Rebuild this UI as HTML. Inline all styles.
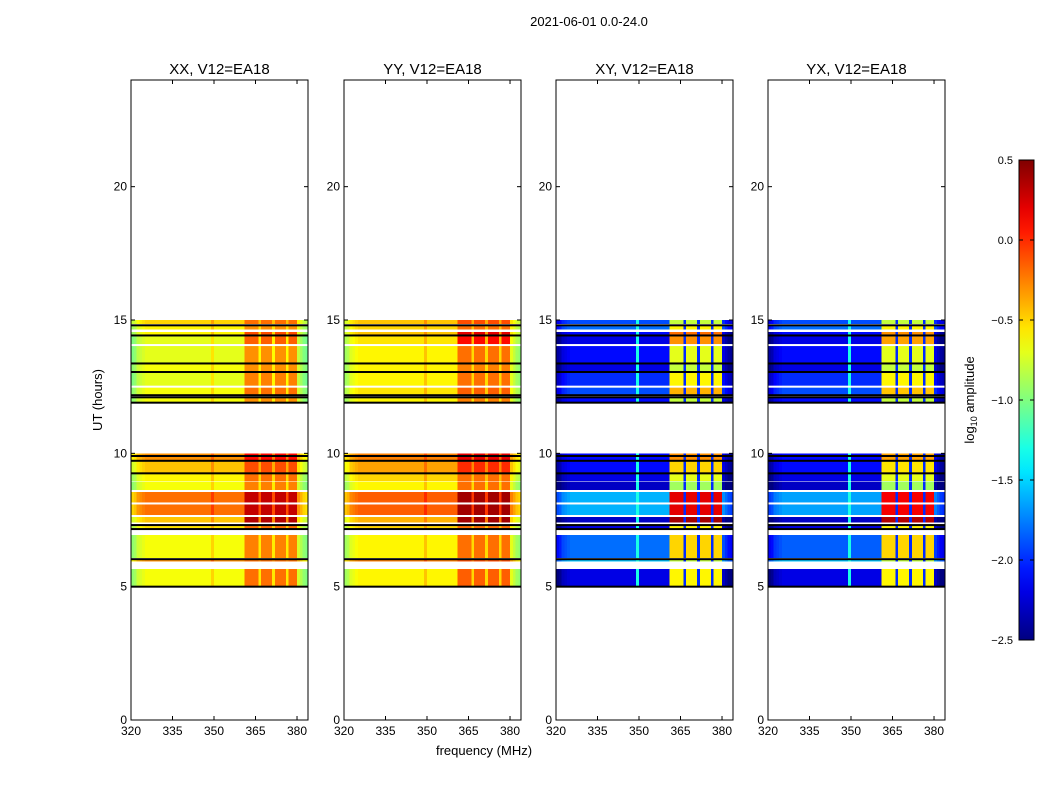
<!DOCTYPE html>
<html><head><meta charset="utf-8"><style>
body{margin:0;background:#fff;}
svg text{font-family:"Liberation Sans",sans-serif;fill:#000;}
</style></head><body>
<svg id="fig" width="1050" height="800" viewBox="0 0 1050 800" xmlns="http://www.w3.org/2000/svg">
<text x="589" y="26" font-size="13" text-anchor="middle">2021-06-01 0.0-24.0</text>
<text transform="translate(102,400) rotate(-90)" font-size="13" text-anchor="middle">UT (hours)</text>
<text x="484" y="755" font-size="13" text-anchor="middle">frequency (MHz)</text>
<text transform="translate(974,400) rotate(-90)" font-size="13" text-anchor="middle">log<tspan font-size="9" dy="3">10</tspan><tspan dy="-3"> amplitude</tspan></text>
<g id="panels"></g>
<g id="cbar"></g>
</svg>
<script>
const panelNames = ["XX, V12=EA18","YY, V12=EA18","XY, V12=EA18","YX, V12=EA18"];
const xTicks = [320,335,350,365,380];
const yTicks = [0,5,10,15,20];
const cbTicks = [0.5,0.0,-0.5,-1.0,-1.5,-2.0,-2.5];
const cbLabels = ["0.5","0.0","\u22120.5","\u22121.0","\u22121.5","\u22122.0","\u22122.5"];
// time bands (hours)
const bandStart = [14.85,14.65,14.42,14.06,13.37,13.05,12.5,12.2,11.9,9.72,9.25,8.97,8.62,7.69,7.4,7.16,6.07,5.95,5.02];
const bandEnd   = [15.0,14.8,14.55,14.42,14.06,13.37,13.05,12.5,12.1,10.0,9.7,9.25,8.95,8.55,7.62,7.31,6.94,6.03,5.66];
// continuum / RFI levels per band per panel (log10 amplitude)
const xxCont = [-0.5,-0.6,-0.6,-0.7,-0.7,-0.65,-0.7,-0.65,-0.65,-0.3,-0.45,-0.6,-0.65,-0.2,-0.45,-0.55,-0.65,-0.3,-0.65];
const xxRfi  = [-0.2,-0.3,-0.1,-0.15,-0.3,-0.3,-0.25,-0.2,-0.3,0.1,-0.1,-0.2,-0.25,0.3,0.35,-0.2,-0.25,-0.2,-0.2];
const yyCont = [-0.45,-0.5,-0.45,-0.55,-0.6,-0.6,-0.6,-0.55,-0.6,-0.25,-0.35,-0.5,-0.6,-0.15,-0.4,-0.5,-0.6,-0.25,-0.6];
const yyRfi  = [-0.1,-0.2,0.2,0.1,-0.2,-0.25,-0.2,-0.15,-0.25,0.2,0.0,-0.2,-0.2,0.4,0.4,-0.2,-0.2,-0.1,-0.15];
const xyCont = [-1.9,-1.8,-2.1,-2.2,-2.1,-2.2,-2.0,-1.9,-2.1,-2.1,-2.1,-2.2,-2.3,-1.6,-2.3,-2.2,-1.8,-1.55,-2.2];
const xyRfi  = [-0.8,-0.6,-0.2,-0.3,-0.7,-0.8,-0.6,-0.4,-0.8,-0.3,-0.5,-0.7,-0.9,0.2,0.4,-0.6,-0.5,-0.8,-0.6];
const yxCont = [-1.9,-1.8,-2.1,-2.2,-2.1,-2.2,-2.0,-1.9,-2.1,-2.1,-2.1,-2.2,-2.3,-1.65,-2.3,-2.2,-1.85,-1.55,-2.2];
const yxRfi  = [-0.8,-0.6,-0.3,-0.35,-0.7,-0.8,-0.6,-0.45,-0.8,-0.35,-0.55,-0.7,-0.9,0.15,0.35,-0.6,-0.5,-0.8,-0.6];
// frequency channels (1 MHz) and RFI weight / edge taper
const freqs = []; for(let f=320; f<384; f++) freqs.push(f);
const rfiW = [0,0,0,0,0,0,0,0,0,0, 0,0,0,0,0,0,0,0,0,0, 0,0,0,0,0,0,0,0,0,0, 0,0,0,0,0,0,0,0,0,0, 0,1,1,1,1,1,0.2,1,1,1, 1,0.2,1,1,1,1,0.2,1,1,1, 0,0,0,0];
const taper = [-0.3,-0.25,-0.12,-0.08,-0.04,0,0,0,0,0, 0,0,0,0,0,0,0,0,0,0, 0,0,0,0,0,0,0,0,0,0.15, 0,0,0,0,0,0,0,0,0,0, 0,0,0,0,0,0,0,0,0,0, 0,0,0,0,0,0,0,0,0,0, -0.1,-0.2,-0.3,-0.35];
// black flag lines (hours)
const blackLines = [14.8,14.42,13.37,13.05,12.18,12.1,11.9,9.9,9.72,9.25,7.31,7.16,6.03,5.0];
const whiteLines = [14.06,12.5,8.12];

const NS="http://www.w3.org/2000/svg";
const lefts=[131,344,556,768], PW=177, TOP=80, PH=640;
const xs=(i,f)=>lefts[i]+(f-320)*2.767;
const ys=h=>TOP+PH-h*(PH/24);
function jet(v){let t=(v+2.5)/3;t=Math.max(0,Math.min(1,t));
 const c=x=>Math.round(255*Math.max(0,Math.min(1,x)));
 return `rgb(${c(1.5-Math.abs(4*t-3))},${c(1.5-Math.abs(4*t-2))},${c(1.5-Math.abs(4*t-1))})`;}
function mk(tag,attrs,parent){const e=document.createElementNS(NS,tag);for(const k in attrs)e.setAttribute(k,attrs[k]);parent.appendChild(e);return e;}
const conts=[xxCont,yyCont,xyCont,yxCont], rfis=[xxRfi,yyRfi,xyRfi,yxRfi];
const G=document.getElementById('panels');
for(let p=0;p<4;p++){
 const g=mk('g',{},G);
 
 
 const hm=mk('g',{'shape-rendering':'crispEdges'},g);
 
 
 for(let b=0;b<bandStart.length;b++){
  const y0=ys(bandEnd[b]), y1=ys(bandStart[b]);
  for(let k=0;k<freqs.length;k++){
   const w=rfiW[k];
   let v=conts[p][b]*(1-w)+rfis[p][b]*w+taper[k];
   if(p>=2 && w<0.5 && w>0) v=-2.0;
   if(p>=2 && taper[k]>0) v=-1.3;
   const x0=xs(p,freqs[k]), x1=Math.min(xs(p,freqs[k]+1),lefts[p]+PW);
   const r=mk('rect',{x:x0,y:y0,width:x1-x0+0.3,height:y1-y0,fill:jet(v)},hm);
   
   
  }
 }
 for(const h of whiteLines){const l=mk('rect',{x:lefts[p],y:ys(h)-1,width:PW,height:2,fill:'#fff'},g);
  }
 for(const h of blackLines){const l=mk('rect',{x:lefts[p],y:ys(h)-1,width:PW,height:2,fill:'#000'},g);
  }
 const fr=mk('rect',{x:lefts[p],y:TOP,width:PW,height:PH,fill:'none',stroke:'#000','stroke-width':1},g);
 
 const t=mk('text',{x:lefts[p]+PW/2,y:74,'font-size':15,'text-anchor':'middle'},g);t.textContent=panelNames[p];
 
 for(const h of yTicks){const y=ys(h);
  mk('line',{x1:lefts[p],x2:lefts[p]+4,y1:y,y2:y,stroke:'#000'},g);
  mk('line',{x1:lefts[p]+PW-4,x2:lefts[p]+PW,y1:y,y2:y,stroke:'#000'},g);
  const tl=mk('text',{x:lefts[p]-4,y:y+4,'font-size':12,'text-anchor':'end'},g);tl.textContent=h;
  }
 for(const f of xTicks){const x=xs(p,f);
  mk('line',{x1:x,x2:x,y1:TOP+PH,y2:TOP+PH-4,stroke:'#000'},g);
  mk('line',{x1:x,x2:x,y1:TOP,y2:TOP+4,stroke:'#000'},g);
  const tl=mk('text',{x:x,y:TOP+PH+15,'font-size':12,'text-anchor':'middle'},g);tl.textContent=f;
  }
}
// colorbar
const CB=document.getElementById('cbar');


const cbY=v=>160+(0.5-v)*160;
const defs=mk('defs',{},CB);
const lg=mk('linearGradient',{id:'jetg',x1:0,y1:1,x2:0,y2:0},defs);
for(let i=0;i<=20;i++){const v=-2.5+3*i/20;mk('stop',{offset:i/20,'stop-color':jet(v)},lg);}
const cr=mk('rect',{x:1019,y:160,width:15,height:480,fill:'url(#jetg)',stroke:'#000'},CB);

cbTicks.forEach((v,i)=>{const y=cbY(v);
 mk('line',{x1:1019,x2:1023,y1:y,y2:y,stroke:'#000'},CB);
 mk('line',{x1:1030,x2:1034,y1:y,y2:y,stroke:'#000'},CB);
 const tl=mk('text',{x:1013,y:y+4,'font-size':11,'text-anchor':'end'},CB);tl.textContent=cbLabels[i];
 });
</script>
</body></html>
